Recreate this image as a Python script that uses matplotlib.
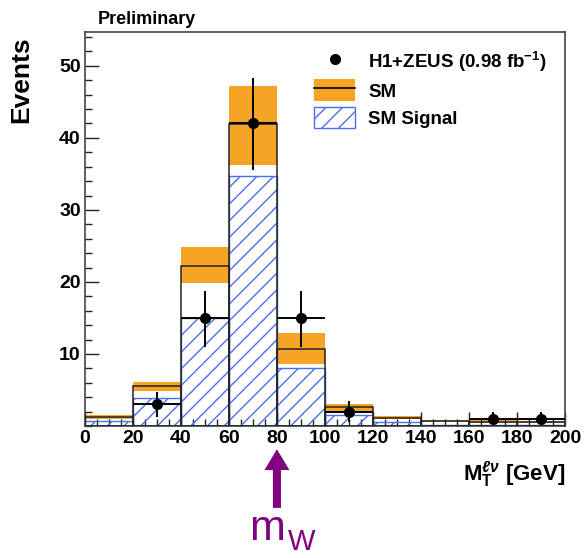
import numpy as np
import matplotlib
matplotlib.use("Agg")
import matplotlib.pyplot as plt
from matplotlib.patches import Patch
from matplotlib.lines import Line2D
from matplotlib.ticker import MultipleLocator

# bin edges of M_T (GeV)
edges = [0, 20, 40, 60, 80, 100, 120, 140, 160, 180, 200]

# SM expectation, its uncertainty band and the signal part
sm = [1.2, 5.5, 22.2, 41.9, 10.7, 2.6, 1.15, 0.65, 0.6, 0.5]
sm_up = [1.5, 6.1, 24.8, 47.2, 12.9, 3.05, 1.4, 0.8, 0.8, 0.65]
sm_down = [0.9, 4.8, 19.8, 36.3, 8.6, 2.0, 0.9, 0.5, 0.45, 0.35]
signal = [0.7, 3.9, 15.0, 34.7, 8.0, 1.5, 0.5, 0.15, 0.1, 0.1]

# data points
data_x = [30, 50, 70, 90, 110, 170, 190]
data_y = [3, 15, 42, 15, 2, 1, 1]
err_lo = [1.7, 4.0, 6.5, 4.0, 1.5, 0.9, 0.9]
err_hi = [1.7, 3.8, 6.3, 3.8, 1.4, 0.9, 0.9]

orange = "#f5a523"
blue = "#4a6ef0"
purple = "#800080"

plt.rcParams['font.family'] = ['Liberation Sans', 'DejaVu Sans']
plt.rcParams['font.weight'] = 'bold'
plt.rcParams['mathtext.fontset'] = 'custom'
plt.rcParams['mathtext.rm'] = 'Liberation Sans:bold'
plt.rcParams['mathtext.bf'] = 'Liberation Sans:bold'
plt.rcParams['mathtext.it'] = 'Liberation Sans:bold:italic'
plt.rcParams['hatch.linewidth'] = 1.0

fig = plt.figure(figsize=(5.85, 5.58), dpi=100)
ax = fig.add_axes([0.145, 0.2366, 0.821, 0.706])

edges = np.array(edges)
centers = (edges[:-1] + edges[1:]) / 2
width = np.diff(edges)

# uncertainty band
ax.bar(centers, np.array(sm_up) - np.array(sm_down), bottom=sm_down, width=width,
       color=orange, linewidth=0, zorder=1)
# signal hatch
ax.bar(centers, signal, width=width, facecolor='none', edgecolor=blue,
       hatch='//', linewidth=1.0, zorder=2)
# SM outline
ax.bar(centers, sm, width=width, fill=False, edgecolor='#222222', linewidth=1.1, zorder=3)

# data
ax.errorbar(data_x, data_y, yerr=[err_lo, err_hi], xerr=10, fmt='o', color='black',
            markersize=7, elinewidth=1.4, capsize=0, zorder=5)

ax.set_xlim(0, 200)
ax.set_ylim(0, 54.7)
ax.set_xticks(range(0, 201, 20))
ax.set_yticks([10, 20, 30, 40, 50])
ax.xaxis.set_minor_locator(MultipleLocator(5))
ax.yaxis.set_minor_locator(MultipleLocator(2))
ax.tick_params(which='both', direction='in', top=False, right=False, labelsize=14,
               width=1.0, color='#222222')
ax.tick_params(which='major', length=10, pad=3)
ax.tick_params(which='minor', length=5)
for s in ax.spines.values():
    s.set_color('#444444')
    s.set_linewidth(1.2)

ax.set_ylabel('Events', fontsize=19, fontweight='bold')
ax.yaxis.set_label_coords(-0.108, 0.878)
ax.set_xlabel(r'$\mathrm{M}_{\mathrm{T}}^{\ell\nu}$ [GeV]', fontsize=16, fontweight='bold',
              loc='right', labelpad=9)

fig.text(98 / 585, 1 - 24 / 558, 'Preliminary', fontsize=13, fontweight='bold', va='baseline')

handles = [Line2D([], [], marker='o', ls='none', color='black', markersize=7),
           (Patch(facecolor=orange, linewidth=0), Line2D([], [], color='black', lw=1.2)),
           Patch(facecolor='white', edgecolor=blue, hatch='//', linewidth=1.0)]
labels = [r'H1+ZEUS (0.98 fb$^{-1}$)', 'SM', 'SM Signal']
ax.legend(handles, labels, loc='upper left', bbox_to_anchor=(0.477, 0.955), frameon=False,
          fontsize=13.5, handlelength=2.2, handleheight=1.4, borderpad=0, borderaxespad=0,
          labelspacing=0.3, handletextpad=0.7)

# m_W arrow below the axis
tr = ax.get_xaxis_transform()
ax.annotate('', xy=(80, -0.052), xytext=(80, -0.215), xycoords=tr, textcoords=tr,
            arrowprops=dict(arrowstyle='simple,head_length=1.5,head_width=1.8,tail_width=0.58',
                            mutation_scale=10, color=purple, lw=0),
            annotation_clip=False)
fig.text(249 / 585, 1 - 540 / 558, 'm', fontsize=31, fontweight='normal', color=purple,
         va='baseline')
fig.text(288 / 585, 1 - 550 / 558, 'W', fontsize=21, fontweight='normal', color=purple,
         va='baseline')

fig.savefig('out.png', dpi=100)
